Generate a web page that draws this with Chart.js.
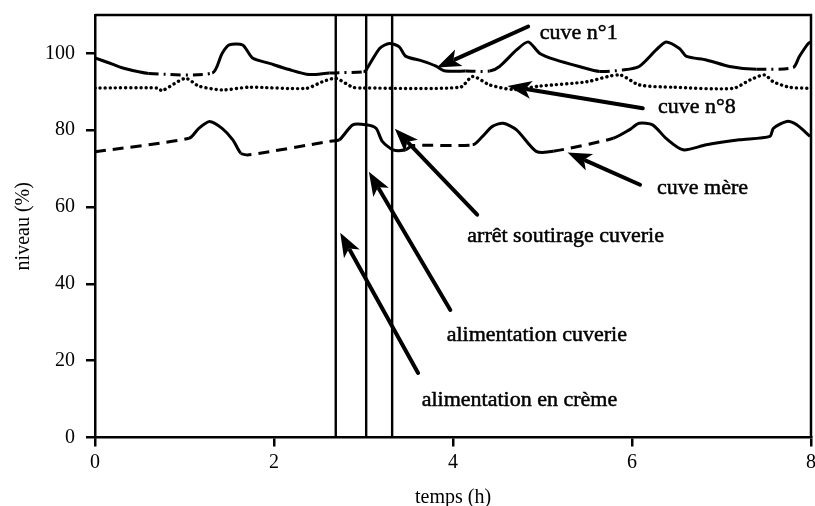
<!DOCTYPE html>
<html>
<head>
<meta charset="utf-8">
<script src="https://cdn.jsdelivr.net/npm/chart.js@4/dist/chart.umd.min.js"></script>
<style>
  html, body { margin: 0; padding: 0; background: #fff; }
  #wrap { width: 815px; height: 506px; }
</style>
</head>
<body>
<div id="wrap"><canvas id="c" width="815" height="506"></canvas></div>
<script>
// Tank levels (%) against time (h)
const xTicks = [0, 2, 4, 6, 8];
const yTicks = [0, 20, 40, 60, 80, 100];

// cuve n°1
const n1Time  = [0.00, 0.16, 0.31, 0.60, 1.31, 1.42, 1.50, 1.65, 1.76, 1.95, 2.17, 2.39, 2.62, 3.00, 3.03, 3.18, 3.29, 3.40, 3.47, 3.66, 3.81, 3.90, 4.14, 4.41, 4.52, 4.71, 4.84, 4.97, 5.15, 5.41, 5.64, 5.90, 6.08, 6.27, 6.38, 6.53, 6.61, 6.83, 7.09, 7.39, 7.80, 7.87, 7.97, 8.00];
const n1Level = [98.8, 97.5, 96.2, 94.8, 94.9, 100.0, 102.2, 102.2, 98.8, 97.4, 95.8, 94.5, 94.9, 95.2, 95.7, 101.3, 102.6, 101.7, 99.3, 98.0, 96.7, 95.5, 95.4, 95.4, 96.6, 100.9, 103.0, 100.0, 98.3, 96.6, 95.3, 95.7, 96.6, 100.9, 103.0, 101.3, 99.2, 98.3, 96.6, 95.9, 96.3, 99.2, 102.6, 103.0];
// time spans where cuve n°1 stays level (drawn dash-dot)
const n1Still = [[0.60, 1.31], [2.62, 3.00], [4.14, 4.41], [5.64, 5.90], [7.39, 7.80]];

// cuve n°8
const n8Time  = [0.00, 0.70, 0.75, 1.01, 1.16, 1.42, 1.72, 2.36, 2.54, 2.69, 2.88, 3.00, 4.08, 4.22, 4.41, 4.67, 4.97, 5.49, 5.86, 6.08, 6.46, 7.13, 7.32, 7.48, 7.58, 7.76, 8.00];
const n8Level = [91.0, 91.0, 90.3, 93.5, 91.5, 90.5, 91.2, 90.9, 92.6, 93.5, 91.2, 91.0, 91.2, 94.0, 91.8, 90.6, 91.5, 92.6, 94.4, 91.8, 91.2, 90.9, 93.1, 94.4, 92.6, 91.2, 90.9];

// cuve mère
const cmTime  = [0.00, 1.05, 1.16, 1.28, 1.42, 1.54, 1.63, 1.72, 2.62, 2.73, 2.88, 3.03, 3.14, 3.21, 3.33, 3.47, 3.55, 4.22, 4.33, 4.44, 4.56, 4.71, 4.93, 5.12, 5.79, 5.97, 6.08, 6.23, 6.38, 6.57, 6.83, 7.20, 7.54, 7.58, 7.73, 7.84, 7.99];
const cmLevel = [74.4, 77.9, 80.5, 82.3, 80.5, 77.5, 74.0, 73.6, 77.1, 77.5, 81.4, 81.4, 80.5, 77.1, 74.9, 74.9, 76.0, 76.2, 78.4, 81.0, 81.8, 80.1, 74.5, 74.5, 77.9, 80.1, 81.8, 81.4, 77.9, 74.9, 76.2, 77.5, 78.4, 80.5, 82.3, 81.4, 78.4];
// time spans where the cuve mère rises slowly (drawn dashed)
const cmSlow = [[0.00, 1.05], [1.63, 2.73], [3.47, 4.22], [5.12, 5.79]];

// event instants (h): alimentation en crème, alimentation cuverie, arrêt soutirage cuverie
const eventTimes = [2.69, 3.03, 3.32];

const notes = [
  { text: 'cuve n°1',                tail: [4.84, 107.0], tip: [3.82, 96.3], at: [4.97, 105.2] },
  { text: 'cuve n°8',                tail: [6.12, 85.7],  tip: [4.61, 91.5], at: [6.29, 85.9] },
  { text: 'cuve mère',               tail: [6.09, 65.8],  tip: [5.28, 74.2], at: [6.28, 64.8] },
  { text: 'arrêt soutirage cuverie', tail: [4.27, 58.0],  tip: [3.35, 80.4], at: [4.16, 52.5] },
  { text: 'alimentation cuverie',    tail: [3.97, 33.2],  tip: [3.06, 69.2], at: [3.93, 26.7] },
  { text: 'alimentation en crème',   tail: [3.61, 16.8],  tip: [2.74, 53.3], at: [3.65, 9.8] }
];

const SERIF = '"Liberation Serif", "Times New Roman", serif';
const INK = '#000';

const pts = (t, v) => t.map((x, i) => ({ x, y: v[i] }));
const within = (spans) => (ctx) => {
  const m = (ctx.p0.parsed.x + ctx.p1.parsed.x) / 2;
  return spans.some(([a, b]) => m >= a && m <= b);
};
const inN1Still = within(n1Still);
const inCmSlow = within(cmSlow);

const datasets = [
  {
    data: pts(n1Time, n1Level), borderColor: INK, borderWidth: 3, pointRadius: 0, tension: 0.25,
    segment: { borderDash: ctx => inN1Still(ctx) ? [10, 5, 2, 5] : undefined }
  },
  {
    data: pts(n8Time, n8Level), borderColor: INK, borderWidth: 3.4, pointRadius: 0, tension: 0.25,
    borderDash: [0.1, 5], borderCapStyle: 'round'
  },
  {
    data: pts(cmTime, cmLevel), borderColor: INK, borderWidth: 3, pointRadius: 0, tension: 0.25,
    segment: { borderDash: ctx => inCmSlow(ctx) ? [11, 7] : undefined }
  }
];
eventTimes.forEach(t => datasets.push({
  data: [{ x: t, y: 0 }, { x: t, y: 110 }],
  borderColor: INK, borderWidth: 2.4, pointRadius: 0
}));

const framePlugin = {
  id: 'frame',
  afterDraw(chart) {
    const { ctx, chartArea: a } = chart;
    ctx.save();
    ctx.strokeStyle = INK;
    ctx.lineWidth = 2.5;
    ctx.beginPath();
    ctx.moveTo(a.left, a.top);
    ctx.lineTo(a.right, a.top);
    ctx.lineTo(a.right, a.bottom);
    ctx.stroke();
    ctx.restore();
  }
};

const notesPlugin = {
  id: 'notes',
  afterDatasetsDraw(chart) {
    const { ctx, scales: { x, y } } = chart;
    const px = p => [x.getPixelForValue(p[0]), y.getPixelForValue(p[1])];
    ctx.save();
    ctx.fillStyle = INK;
    ctx.strokeStyle = INK;
    notes.forEach(n => {
      const [tx, ty] = px(n.tail);
      const [hx, hy] = px(n.tip);
      const ang = Math.atan2(hy - ty, hx - tx);
      const headLen = 24, headHalf = 9;
      const bx = hx - Math.cos(ang) * (headLen - 4);
      const by = hy - Math.sin(ang) * (headLen - 4);
      ctx.lineWidth = 4;
      ctx.lineCap = 'round';
      ctx.beginPath();
      ctx.moveTo(tx, ty);
      ctx.lineTo(bx, by);
      ctx.stroke();
      const cx = hx - Math.cos(ang) * headLen, cy = hy - Math.sin(ang) * headLen;
      const nx = -Math.sin(ang), ny = Math.cos(ang);
      ctx.beginPath();
      ctx.moveTo(hx, hy);
      ctx.lineTo(cx + nx * headHalf, cy + ny * headHalf);
      ctx.lineTo(hx - Math.cos(ang) * (headLen - 6), hy - Math.sin(ang) * (headLen - 6));
      ctx.lineTo(cx - nx * headHalf, cy - ny * headHalf);
      ctx.closePath();
      ctx.fill();
      const [lx, ly] = px(n.at);
      ctx.font = '22px ' + SERIF;
      ctx.textAlign = 'left';
      ctx.textBaseline = 'middle';
      ctx.lineWidth = 0.5;
      ctx.fillText(n.text, lx, ly);
      ctx.strokeText(n.text, lx, ly);
    });
    ctx.restore();
  }
};

new Chart(document.getElementById('c'), {
  type: 'line',
  data: { datasets },
  options: {
    responsive: false,
    animation: false,
    layout: { padding: { top: 15, right: 4, left: 0, bottom: 0 } },
    plugins: { legend: { display: false }, tooltip: { enabled: false } },
    scales: {
      x: {
        type: 'linear', min: 0, max: 8,
        afterBuildTicks: s => { s.ticks = xTicks.map(v => ({ value: v })); },
        afterFit: s => { s.height = 68.5; s.paddingLeft = 0; s.paddingRight = 0; },
        ticks: { color: INK, font: { family: SERIF, size: 20 }, padding: 4, maxRotation: 0 },
        grid: { display: true, drawOnChartArea: false, drawTicks: true, tickLength: 9, color: INK, lineWidth: 2.5 },
        border: { display: true, color: INK, width: 2.5 },
        title: { display: true, text: 'temps (h)', color: INK, font: { family: SERIF, size: 20 }, padding: { top: 0, bottom: -4 } }
      },
      y: {
        type: 'linear', min: 0, max: 110,
        afterBuildTicks: s => { s.ticks = yTicks.map(v => ({ value: v })); },
        afterFit: s => { s.width = 95; s.paddingTop = 0; s.paddingBottom = 0; },
        ticks: { color: INK, font: { family: SERIF, size: 20 }, padding: 11 },
        grid: { display: true, drawOnChartArea: false, drawTicks: true, tickLength: 9, color: INK, lineWidth: 2.5 },
        border: { display: true, color: INK, width: 2.5 },
        title: { display: true, text: 'niveau (%)', color: INK, font: { family: SERIF, size: 20 }, padding: { top: 12, bottom: 0 } }
      }
    }
  },
  plugins: [framePlugin, notesPlugin]
});
</script>
</body>
</html>
